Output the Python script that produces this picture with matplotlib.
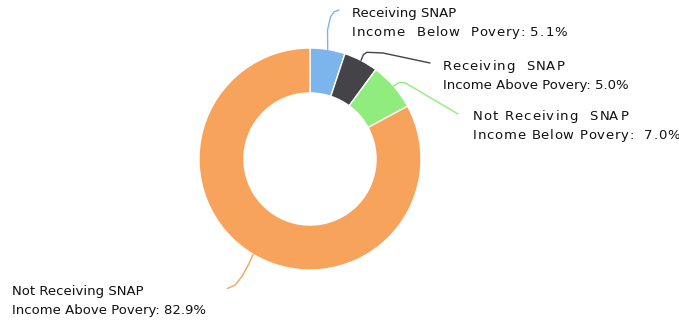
import numpy as np
import matplotlib
matplotlib.use("Agg")
import matplotlib.pyplot as plt
from matplotlib.font_manager import FontProperties, findfont, get_font

try:
    from matplotlib.ft2font import LoadFlags, Kerning
    NO_HINT = LoadFlags.NO_HINTING
    KERN = Kerning.DEFAULT
except ImportError:  # older matplotlib
    from matplotlib.ft2font import LOAD_NO_HINTING as NO_HINT, KERNING_DEFAULT as KERN

# SNAP participation by poverty status (share of households, %)
names = [
    ("Receiving SNAP", "Income  Below  Povery"),
    ("Receiving  SNAP", "Income Above Povery"),
    ("Not Receiving  SNAP", "Income Below Povery"),
    ("Not Receiving SNAP", "Income Above Povery"),
]
value_sep = [": ", ": ", ":  ", ": "]
shares = [5.1, 5.0, 7.0, 82.9]
colors = ["#7cb5ec", "#434348", "#90ed7d", "#f7a35c"]

W, H = 679, 320
DPI = 100
FS = 9.5
TEXT_COLOR = "#111111"
fig = plt.figure(figsize=(W / DPI, H / DPI), dpi=DPI)
ax = fig.add_axes([0, 0, 1, 1])

cx, cy, R = 310, H - 159, 111
wedges, _ = ax.pie(
    shares, colors=colors, startangle=90, counterclock=False,
    center=(cx, cy), radius=R,
    wedgeprops=dict(width=R * 0.405, edgecolor="white", linewidth=1.0),
)
ax.set_xlim(0, W)
ax.set_ylim(0, H)
ax.set_aspect("equal")
ax.axis("off")

prop = FontProperties(family="DejaVu Sans", size=FS)
ftfont = get_font(findfont(prop))
ftfont.set_size(FS, DPI)


def glyph_layout(s, tracking):
    """Pen positions (px) with kerning and extra tracking, plus ink bounds."""
    items, pen, prev = [], 0.0, None
    for ch in s:
        idx = ftfont.get_char_index(ord(ch))
        if prev is not None:
            try:
                pen += ftfont.get_kerning(prev, idx, KERN) / 64.0
            except Exception:
                pass
        g = ftfont.load_char(ord(ch), flags=NO_HINT)
        lsb = g.horiBearingX / 64.0
        items.append((ch, pen, lsb, g.width / 64.0))
        pen += g.linearHoriAdvance / 65536.0 + tracking
        prev = idx
    ink_left = items[0][1] + items[0][2]
    ink_right = items[-1][1] + items[-1][2] + items[-1][3]
    return items, ink_left, ink_right


def label_line(x, y_center, s, width=None):
    """Draw one label line with its ink starting at x; letter-space it when a width is given."""
    base = H - (y_center + 3.45)
    if width is None:
        ax.text(x, base, s, ha="left", va="baseline", fontsize=FS,
                family="DejaVu Sans", color=TEXT_COLOR)
        return
    items, l0, r0 = glyph_layout(s, 0.0)
    tracking = max(0.0, (width - (r0 - l0)) / (len(s) - 1))
    items, l0, r0 = glyph_layout(s, tracking)
    for ch, pen, lsb, gw in items:
        if ch.strip():
            ax.text(x + (pen + lsb - l0), base, ch, ha="left", va="baseline",
                    fontsize=FS, family="DejaVu Sans", color=TEXT_COLOR)


# label anchor (left x, first-line centre y, in pixels from the top),
# line widths for letter-spaced lines, and connector bend points
label_pos = [(352, 14), (443, 67), (473, 117), (12, 292)]
line_widths = [(None, 213), (120, None), (154, 205), (None, None)]
bends = [
    [(327.5, 30), (330.5, 17), (334, 12), (339, 10)],
    [(363.5, 54.5), (367, 52.3), (383, 53), (430, 63)],
    [(399, 82.5), (405, 82.7), (458, 114)],
    [(248.5, 264.5), (242, 276.5), (235, 285), (227.5, 288.5)],
]

line_gap = 19
for w, (first, second), sep, val, col, (lx, ly), (w1, w2), pts in zip(
        wedges, names, value_sep, shares, colors, label_pos, line_widths, bends):
    mid = np.deg2rad((w.theta1 + w.theta2) / 2)
    sx, sy = cx + R * np.cos(mid), cy + R * np.sin(mid)
    xs = [sx] + [p[0] for p in pts]
    ys = [sy] + [H - p[1] for p in pts]
    ax.plot(xs, ys, color=col, lw=1.0, solid_capstyle="round")
    label_line(lx, ly, first, w1)
    label_line(lx, ly + line_gap, f"{second}{sep}{val:.1f}%", w2)

fig.savefig("out.png", dpi=DPI)
